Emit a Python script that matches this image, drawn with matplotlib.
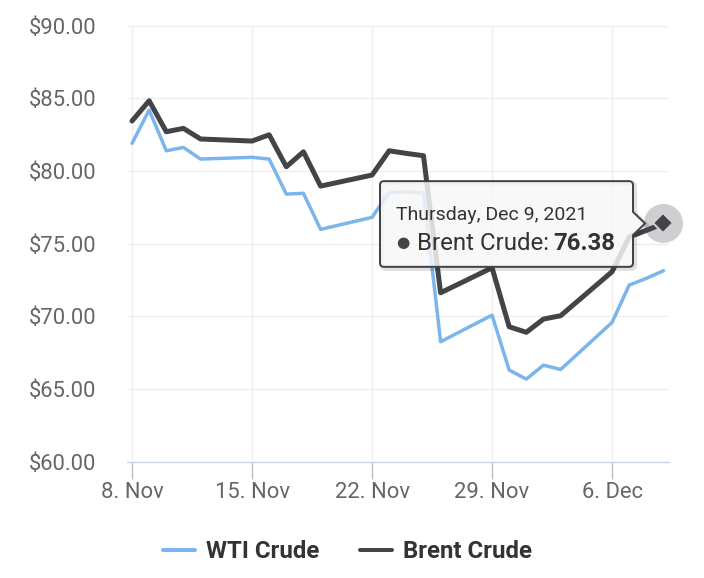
import numpy as np
import pandas as pd
import matplotlib
matplotlib.use("Agg")
import matplotlib.pyplot as plt
import matplotlib.dates as mdates
from matplotlib.path import Path
from matplotlib.patches import PathPatch, Circle
from matplotlib.transforms import IdentityTransform
from matplotlib.ticker import FuncFormatter

plt.rcParams['font.family'] = ['Roboto', 'DejaVu Sans']

# trading days, Nov 8 - Dec 9 2021
dates = pd.to_datetime([
    "2021-11-08", "2021-11-09", "2021-11-10", "2021-11-11", "2021-11-12",
    "2021-11-15", "2021-11-16", "2021-11-17", "2021-11-18", "2021-11-19",
    "2021-11-22", "2021-11-23", "2021-11-24", "2021-11-25", "2021-11-26",
    "2021-11-29", "2021-11-30", "2021-12-01", "2021-12-02", "2021-12-03",
    "2021-12-06", "2021-12-07", "2021-12-08", "2021-12-09",
])
wti = [81.89, 84.18, 81.38, 81.61, 80.81, 80.93, 80.81, 78.40, 78.45, 75.97,
       76.80, 78.52, 78.56, 78.49, 68.24, 70.07, 66.29, 65.67, 66.63, 66.33,
       69.57, 72.14, 72.60, 73.13]
brent = [83.43, 84.82, 82.69, 82.92, 82.19, 82.05, 82.48, 80.28, 81.31, 78.95,
         79.71, 81.38, 81.20, 81.04, 71.61, 73.33, 69.27, 68.89, 69.80, 70.03,
         73.06, 75.45, 75.90, 76.38]
series_names = ["WTI Crude", "Brent Crude"]
series_colors = ["#7cb5ec", "#434348"]
y_ticks = [60, 65, 70, 75, 80, 85, 90]
hover_idx = 23  # Dec 9, Brent

W, H = 704, 578
fig = plt.figure(figsize=(W / 100, H / 100), dpi=100)
ax = fig.add_axes([127 / W, 1 - 461.5 / H, (669 - 127) / W, (461.5 - 25.5) / H])

x = mdates.date2num(dates)
ax.plot(x, wti, color=series_colors[0], lw=2.5, solid_joinstyle='round',
        solid_capstyle='round', label=series_names[0], zorder=3)
ax.plot(x, brent, color=series_colors[1], lw=3.6, solid_joinstyle='round',
        solid_capstyle='round', label=series_names[1], zorder=4)

ax.set_ylim(60, 90)
ax.set_xlim(x[0] - 5 / 17.14, x[-1] + 5.5 / 17.14)
ax.set_yticks(y_ticks)
ax.yaxis.set_major_formatter(FuncFormatter(lambda v, p: "${:.2f}".format(v)))
ax.xaxis.set_major_locator(mdates.WeekdayLocator(byweekday=mdates.MO))
ax.xaxis.set_major_formatter(FuncFormatter(
    lambda v, p: "{}. {}".format(mdates.num2date(v).day, mdates.num2date(v).strftime("%b"))))

ax.grid(True, color="#eeeeee", lw=1.0, zorder=0)
ax.set_axisbelow(True)
for s in ["top", "right", "left"]:
    ax.spines[s].set_visible(False)
ax.spines["bottom"].set_color("#ccd6eb")
ax.spines["bottom"].set_linewidth(1.0)
ax.tick_params(axis="y", length=0, pad=22, labelsize=15.8, labelcolor="#666666")
ax.tick_params(axis="x", length=12.2, width=1.0, color="#c0c0c0", pad=2.5,
               labelsize=15.8, labelcolor="#666666")

# hover halo + marker
px, py = ax.transData.transform((x[hover_idx], brent[hover_idx]))
halo = Circle((px, py), 19.5, transform=IdentityTransform(), facecolor=series_colors[1],
              alpha=0.25, edgecolor="none", zorder=5)
fig.add_artist(halo)
ax.plot([x[hover_idx]], [brent[hover_idx]], marker="D", ms=10.5, color=series_colors[1],
        mec="white", mew=1.5, zorder=6, clip_on=False)

# tooltip callout
L, R = px - 283.5, px - 30.5
T, B = py + 42.3, py - 43.4
ny1, ny2, tipx = py + 11.6, py - 11.7, px - 18.5
r = 4
verts = [(L + r, T), (R - r, T), (R, T), (R, T - r), (R, ny1), (tipx, py), (R, ny2),
         (R, B + r), (R, B), (R - r, B), (L + r, B), (L, B), (L, B + r), (L, T - r),
         (L, T), (L + r, T), (L + r, T)]
codes = [Path.MOVETO, Path.LINETO, Path.CURVE3, Path.CURVE3, Path.LINETO, Path.LINETO,
         Path.LINETO, Path.LINETO, Path.CURVE3, Path.CURVE3, Path.LINETO, Path.CURVE3,
         Path.CURVE3, Path.LINETO, Path.CURVE3, Path.CURVE3, Path.CLOSEPOLY]
path = Path(verts, codes)
shadow = PathPatch(Path([(vx + 2, vy - 2) for vx, vy in verts], codes),
                   transform=IdentityTransform(), facecolor="none",
                   edgecolor="black", alpha=0.12, lw=3, zorder=7)
fig.add_artist(shadow)
tip = PathPatch(path, transform=IdentityTransform(), facecolor=(0.969, 0.969, 0.969, 0.85),
                edgecolor=series_colors[1], lw=1.44, zorder=8)
fig.add_artist(tip)


def img_pt(ix, iy):
    return ix, H - iy


tx, ty = img_pt(396, 220)
fig.text(tx, ty, dates[hover_idx].strftime("%A, %b ") + str(dates[hover_idx].day)
         + dates[hover_idx].strftime(", %Y"), transform=IdentityTransform(),
         fontsize=14.0, color="#333333", va="baseline", ha="left", zorder=9)
tx, ty = img_pt(396, 243)
fig.text(tx, ty, "\u25cf", transform=IdentityTransform(), fontsize=11,
         color=series_colors[1], va="center", ha="left", zorder=9)
tx, ty = img_pt(416.7, 250)
fig.text(tx, ty, series_names[1] + ":", transform=IdentityTransform(), fontsize=17.3,
         color="#333333", va="baseline", ha="left", zorder=9)
tx, ty = img_pt(553, 250)
fig.text(tx, ty, "{:.2f}".format(brent[hover_idx]), transform=IdentityTransform(),
         fontsize=17.3, color="#333333", fontweight="bold", va="baseline", ha="left", zorder=9)

# legend
handles, labels = ax.get_legend_handles_labels()
leg = fig.legend(handles, labels, loc="center", bbox_to_anchor=(347.5 / W, 1 - 552 / H),
                 ncol=2, frameon=False, handlelength=1.33, handletextpad=0.46,
                 columnspacing=1.67, prop={"weight": "bold", "size": 17.3})
for t in leg.get_texts():
    t.set_color("#333333")
for h in leg.legend_handles:
    h.set_linewidth(2.9)

fig.savefig("out.png", dpi=100)
